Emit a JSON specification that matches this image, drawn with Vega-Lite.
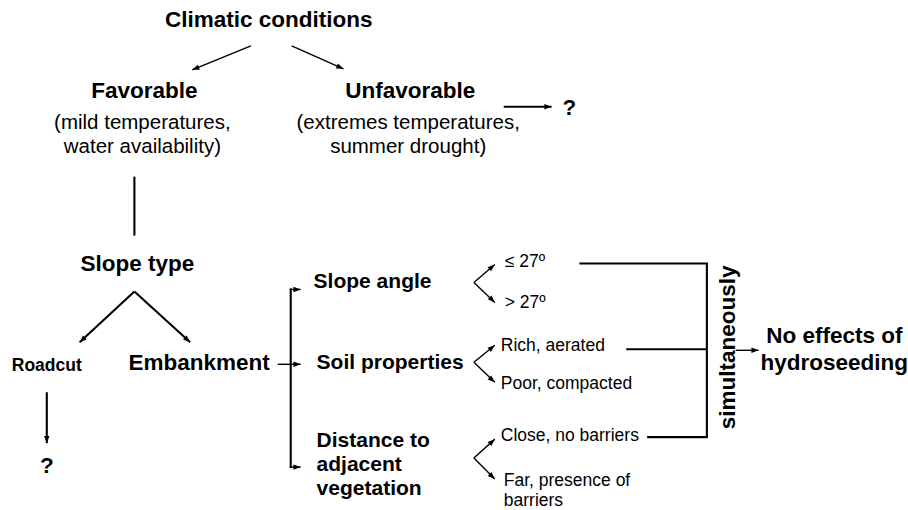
{
  "$schema": "https://vega.github.io/schema/vega-lite/v6.json",
  "width": 908,
  "height": 510,
  "padding": 0,
  "autosize": {"type": "fit", "contains": "padding"},
  "background": "white",
  "config": {"view": {"stroke": null}, "text": {"font": "Liberation Sans", "color": "black"}},
  "datasets": {
    "segments": [
      {"x": 252, "y": 46, "x2": 193, "y2": 70, "w": "thin", "head": true, "ang": 248},
      {"x": 293, "y": 46, "x2": 345, "y2": 69, "w": "thin", "head": true, "ang": 114},
      {"x": 506, "y": 107, "x2": 554, "y2": 107, "w": "thick", "head": true, "ang": 90},
      {"x": 135, "y": 177, "x2": 135, "y2": 236, "w": "thick", "head": false, "ang": 0},
      {"x": 135, "y": 292, "x2": 80, "y2": 343, "w": "thick", "head": true, "ang": 227},
      {"x": 135, "y": 292, "x2": 191, "y2": 343, "w": "thick", "head": true, "ang": 132},
      {"x": 47, "y": 393, "x2": 47, "y2": 444, "w": "thick", "head": true, "ang": 180},
      {"x": 279, "y": 365, "x2": 302, "y2": 365, "w": "thin", "head": true, "ang": 90},
      {"x": 292, "y": 289, "x2": 292, "y2": 469, "w": "thick", "head": false, "ang": 0},
      {"x": 291, "y": 290, "x2": 302, "y2": 290, "w": "thin", "head": true, "ang": 90},
      {"x": 291, "y": 468, "x2": 302, "y2": 468, "w": "thin", "head": true, "ang": 90},
      {"x": 476, "y": 283, "x2": 497, "y2": 265, "w": "thin", "head": true, "ang": 49},
      {"x": 476, "y": 283, "x2": 497, "y2": 303, "w": "thin", "head": true, "ang": 134},
      {"x": 476, "y": 363, "x2": 497, "y2": 346, "w": "thin", "head": true, "ang": 51},
      {"x": 476, "y": 363, "x2": 497, "y2": 383, "w": "thin", "head": true, "ang": 132},
      {"x": 476, "y": 459, "x2": 497, "y2": 440, "w": "thin", "head": true, "ang": 48},
      {"x": 476, "y": 459, "x2": 497, "y2": 480, "w": "thin", "head": true, "ang": 134},
      {"x": 582, "y": 264, "x2": 711, "y2": 264, "w": "thick", "head": false, "ang": 0},
      {"x": 710, "y": 264, "x2": 710, "y2": 438, "w": "thick", "head": false, "ang": 0},
      {"x": 629, "y": 350, "x2": 710, "y2": 350, "w": "thick", "head": false, "ang": 0},
      {"x": 650, "y": 438, "x2": 711, "y2": 438, "w": "thick", "head": false, "ang": 0},
      {"x": 739, "y": 351, "x2": 762, "y2": 351, "w": "thin", "head": true, "ang": 90}
    ],
    "labels": [
      {"t": "Climatic conditions", "x": 270, "y": 20, "k": "h"},
      {"t": "Favorable", "x": 145, "y": 91, "k": "h"},
      {"t": "Unfavorable", "x": 412, "y": 91, "k": "h"},
      {"t": "?", "x": 572, "y": 108, "k": "h"},
      {"t": "Slope type", "x": 138, "y": 265, "k": "h"},
      {"t": "Embankment", "x": 200, "y": 364, "k": "h"},
      {"t": "?", "x": 47, "y": 467, "k": "h"},
      {"t": "No effects of", "x": 838, "y": 337, "k": "h"},
      {"t": "hydroseeding", "x": 838, "y": 364, "k": "h"},
      {"t": "Roadcut", "x": 47, "y": 367, "k": "r"},
      {"t": "Slope angle", "x": 315, "y": 283, "k": "hl"},
      {"t": "Soil properties", "x": 318, "y": 364, "k": "hl"},
      {"t": "Distance to", "x": 318, "y": 442, "k": "hl"},
      {"t": "adjacent", "x": 318, "y": 466, "k": "hl"},
      {"t": "vegetation", "x": 318, "y": 490, "k": "hl"},
      {"t": "(mild temperatures,", "x": 143, "y": 123, "k": "s"},
      {"t": "water availability)", "x": 143, "y": 147, "k": "s"},
      {"t": "(extremes temperatures,", "x": 410, "y": 123, "k": "s"},
      {"t": "summer drought)", "x": 410, "y": 147, "k": "s"},
      {"t": "≤ 27º", "x": 507, "y": 263, "k": "sm"},
      {"t": "> 27º", "x": 507, "y": 304, "k": "sm"},
      {"t": "Rich, aerated", "x": 503, "y": 347, "k": "sm"},
      {"t": "Poor, compacted", "x": 503, "y": 385, "k": "sm"},
      {"t": "Close, no barriers", "x": 503, "y": 437, "k": "sm"},
      {"t": "Far, presence of", "x": 506, "y": 482, "k": "sm"},
      {"t": "barriers", "x": 506, "y": 502, "k": "sm"},
      {"t": "simultaneously", "x": 731, "y": 348, "k": "v"}
    ]
  },
  "encoding": {
    "x": {"field": "x", "type": "quantitative", "scale": {"domain": [0, 908], "nice": false, "zero": false}, "axis": null},
    "y": {"field": "y", "type": "quantitative", "scale": {"domain": [0, 510], "nice": false, "zero": false, "reverse": true}, "axis": null}
  },
  "layer": [
    {
      "data": {"name": "segments"},
      "transform": [{"filter": "datum.w === 'thin'"}],
      "mark": {"type": "rule", "color": "black", "strokeWidth": 1.4},
      "encoding": {"x2": {"field": "x2"}, "y2": {"field": "y2"}}
    },
    {
      "data": {"name": "segments"},
      "transform": [{"filter": "datum.w === 'thick'"}],
      "mark": {"type": "rule", "color": "black", "strokeWidth": 2.1},
      "encoding": {"x2": {"field": "x2"}, "y2": {"field": "y2"}}
    },
    {
      "data": {"name": "segments"},
      "transform": [{"filter": "datum.head"}],
      "mark": {"type": "point", "shape": "M0,0L0.75,2L-0.75,2Z", "filled": true, "color": "black", "opacity": 1, "size": 52, "strokeWidth": 0},
      "encoding": {
        "x": {"field": "x2", "type": "quantitative", "scale": {"domain": [0, 908], "nice": false, "zero": false}, "axis": null},
        "y": {"field": "y2", "type": "quantitative", "scale": {"domain": [0, 510], "nice": false, "zero": false, "reverse": true}, "axis": null},
        "angle": {"field": "ang", "type": "quantitative", "scale": null}
      }
    },
    {
      "data": {"name": "labels"},
      "transform": [{"filter": "datum.k === 'h'"}],
      "mark": {"type": "text", "fontSize": 22.5, "fontWeight": "bold", "align": "center", "baseline": "middle"},
      "encoding": {"text": {"field": "t"}}
    },
    {
      "data": {"name": "labels"},
      "transform": [{"filter": "datum.k === 'r'"}],
      "mark": {"type": "text", "fontSize": 17.5, "fontWeight": "bold", "align": "center", "baseline": "middle"},
      "encoding": {"text": {"field": "t"}}
    },
    {
      "data": {"name": "labels"},
      "transform": [{"filter": "datum.k === 'hl'"}],
      "mark": {"type": "text", "fontSize": 21, "fontWeight": "bold", "align": "left", "baseline": "middle"},
      "encoding": {"text": {"field": "t"}}
    },
    {
      "data": {"name": "labels"},
      "transform": [{"filter": "datum.k === 's'"}],
      "mark": {"type": "text", "fontSize": 20.5, "align": "center", "baseline": "middle"},
      "encoding": {"text": {"field": "t"}}
    },
    {
      "data": {"name": "labels"},
      "transform": [{"filter": "datum.k === 'sm'"}],
      "mark": {"type": "text", "fontSize": 17.5, "align": "left", "baseline": "middle"},
      "encoding": {"text": {"field": "t"}}
    },
    {
      "data": {"name": "labels"},
      "transform": [{"filter": "datum.k === 'v'"}],
      "mark": {"type": "text", "fontSize": 22.5, "fontWeight": "bold", "align": "center", "baseline": "middle", "angle": 270},
      "encoding": {"text": {"field": "t"}}
    }
  ]
}
